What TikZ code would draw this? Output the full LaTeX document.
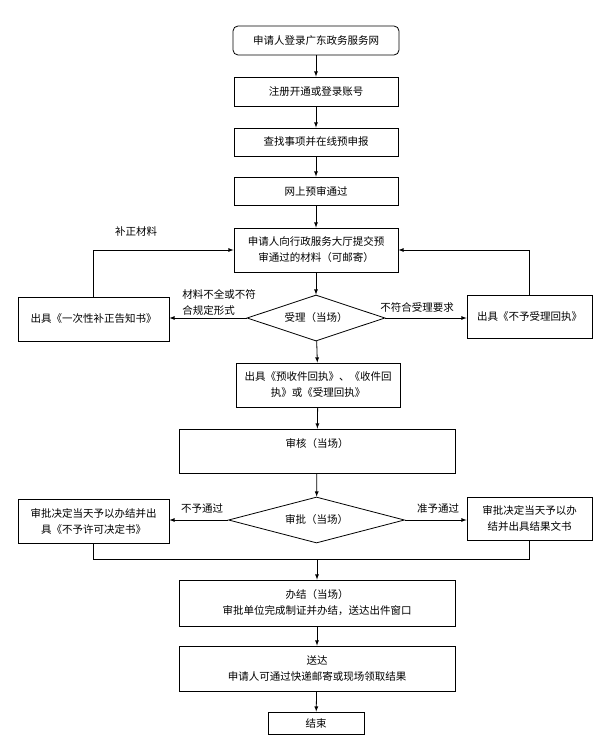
\documentclass[tikz,border=0pt]{standalone}
\usepackage{fontspec}
\newfontfamily\cjk{Noto Sans CJK SC}
\usetikzlibrary{shapes.geometric}

\begin{document}
\begin{tikzpicture}[x=1pt, y=-1pt, >=latex, line width=0.8pt,
    every node/.style={font=\cjk\fontsize{10.5}{16}\selectfont},
    box/.style={draw, align=center, inner sep=0pt},
    decide/.style={draw, diamond, aspect=3, inner sep=0pt},
    tag/.style={align=left, inner sep=0pt}]
        \useasboundingbox (0,0) rectangle (600,741);                    %page
        \node [box, rounded corners=5pt, minimum width=166pt, minimum height=29pt] (login)    at (316,40.5)  {申请人登录广东政务服务网};
        \node [box, minimum width=164pt, minimum height=29pt]  (register) at (316,91.5)  {注册开通或登录账号};
        \node [box, minimum width=164pt, minimum height=28pt]  (search)   at (316,142)   {查找事项并在线预申报};
        \node [box, minimum width=164pt, minimum height=28pt]  (pass)     at (316,191)   {网上预审通过};
        \node [box, minimum width=164pt, minimum height=44pt]  (submit)   at (316,250)   {申请人向行政服务大厅提交预\\审通过的材料（可邮寄）};
        \node [decide, minimum width=138pt, minimum height=46pt] (accept) at (316,318)   {受理（当场）};
        \node [box, minimum width=151pt, minimum height=44pt]  (notice)   at (93.5,319)  {出具《一次性补正告知书》};
        \node [box, minimum width=125pt, minimum height=43pt]  (reject)   at (529.5,316.5) {出具《不予受理回执》};
        \node [box, minimum width=164pt, minimum height=44pt]  (receipt)  at (318,385)   {出具《预收件回执》、《收件回\\执》或《受理回执》};
        \node [box, minimum width=276pt, minimum height=44pt]  (review)   at (317,451)   {审核（当场）\\ \mbox{}};
        \node [decide, minimum width=176pt, minimum height=46pt] (approve) at (316.5,520) {审批（当场）};
        \node [box, minimum width=151pt, minimum height=44pt]  (deny)     at (93.5,521)  {审批决定当天予以办结并出\\具《不予许可决定书》};
        \node [box, minimum width=125pt, minimum height=43pt]  (grant)    at (529.5,518.5) {审批决定当天予以办\\结并出具结果文书};
        \node [box, minimum width=276pt, minimum height=46pt]  (finish)   at (317,603)   {办结（当场）\\审批单位完成制证并办结，送达出件窗口};
        \node [box, minimum width=276pt, minimum height=45pt]  (deliver)  at (317,668.5) {送达\\申请人可通过快递邮寄或现场领取结果};
        \node [box, minimum width=96pt, minimum height=22pt]   (end)      at (316,723)   {结束};
        \coordinate (merge) at (317,559);                               %join

        \draw [->] (login) -- (register);                               %
        \draw [->] (register) -- (search);                              %
        \draw [->] (search) -- (pass);                                  %
        \draw [->] (pass) -- (submit);                                  %
        \draw [->] (submit) -- (accept);                                %
        \draw [->] (accept) -- (receipt);                               %
        \draw [->] (receipt) -- (review);                               %
        \draw [->] (review) -- (approve);                               %
        \draw [->] (accept.west) -- (accept.west -| notice.east);       %lack
        \node [tag, anchor=west] (lack) at (182,302) {材料不全或不符\\合规定形式};
        \draw [->] (accept.east) -- (accept.east -| reject.west);       %refuse
        \node [tag] (refuse) at (417,307) {不符合受理要求};
        \draw [->] (notice.north) |- (submit.west);                     %back
        \node [tag] (amend) at (136,232) {补正材料};
        \draw [->] (reject.north) |- (submit.east);                     %back
        \draw [->] (approve.west) -- (approve.west -| deny.east);       %no
        \node [tag] (nopass) at (202,509) {不予通过};
        \draw [->] (approve.east) -- (approve.east -| grant.west);      %yes
        \node [tag] (yespass) at (438,509) {准予通过};
        \draw (deny.south) -- (deny.south |- merge) -- (grant.south |- merge) -- (grant.south);
        \draw [->] (merge) -- (finish);                                 %
        \draw [->] (finish) -- (deliver);                               %
        \draw [->] (deliver) -- (end);                                  %
      \end{tikzpicture}
\end{document}
